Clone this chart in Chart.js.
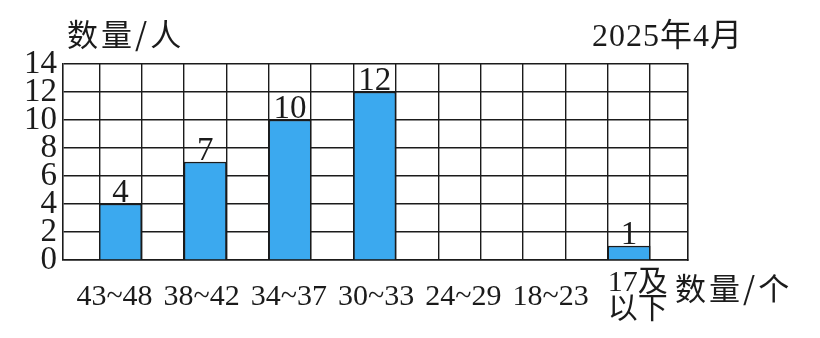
<!DOCTYPE html>
<html><head><meta charset="utf-8">
<script src="https://cdn.jsdelivr.net/npm/chart.js@4/dist/chart.umd.min.js"></script>
<style>html,body{margin:0;padding:0;background:#fff}</style>
</head><body>
<canvas id="c" width="820" height="338"></canvas>
<script>
// ---- data ----
const categories = ['43~48', '38~42', '34~37', '30~33', '24~29', '18~23', ['17及', '以下']];
const counts = [4, 7, 10, 12, 0, 0, 1];
const yTicks = [0, 2, 4, 6, 8, 10, 12, 14];
const yTitle = '数量/人';
const xTitle = '数量/个';
const dateLabel = '2025年4月';

// ---- style ----
const SERIF = "'Liberation Serif','Noto Sans CJK SC',serif";
const CJK = "'Noto Sans CJK SC','Liberation Serif',sans-serif";
const INK = '#1b1b1b';
const BAR = '#3ba9ef';

const annotations = {
  id: 'annotations',
  afterDraw(chart) {
    const {ctx, chartArea: a} = chart;
    ctx.save();
    ctx.fillStyle = INK;
    ctx.textBaseline = 'middle';
    ctx.font = `31px ${CJK}`;
    ctx.letterSpacing = '3px';
    ctx.textAlign = 'left';
    ctx.fillText(yTitle, a.left + 4, a.top - 30);
    ctx.fillText(xTitle, a.right - 13, a.bottom + 28);
    ctx.font = `32px ${SERIF}`;
    ctx.letterSpacing = '1px';
    ctx.textAlign = 'right';
    ctx.fillText(dateLabel, a.right + 55, a.top - 26);
    ctx.restore();
  }
};

const valueLabels = {
  id: 'valueLabels',
  afterDatasetsDraw(chart) {
    const ctx = chart.ctx;
    const meta = chart.getDatasetMeta(0);
    ctx.save();
    ctx.fillStyle = INK;
    ctx.font = `33px ${SERIF}`;
    ctx.textAlign = 'center';
    ctx.textBaseline = 'alphabetic';
    meta.data.forEach((bar, i) => {
      if (counts[i] > 0) ctx.fillText(String(counts[i]), bar.x, bar.y - 2);
    });
    ctx.restore();
  }
};

new Chart(document.getElementById('c'), {
  type: 'bar',
  data: {
    datasets: [{
      data: counts.map((v, i) => ({x: i, y: v})),
      backgroundColor: BAR,
      borderColor: INK,
      borderWidth: 1.5,
      borderSkipped: 'start',
      categoryPercentage: 1,
      barPercentage: 1,
      xAxisID: 'x',
      yAxisID: 'y'
    }]
  },
  options: {
    responsive: false,
    animation: false,
    devicePixelRatio: 1,
    layout: {padding: {left: 0, right: 132, top: 64, bottom: 0}},
    plugins: {legend: {display: false}, tooltip: {enabled: false}, title: {display: false}},
    scales: {
      x: {
        type: 'linear', position: 'bottom', offset: false,
        min: -0.678, max: 6.696,
        grid: {offset: false, color: INK, lineWidth: 1.4, drawTicks: false},
        border: {display: true, color: INK, width: 1.6},
        ticks: {display: false},
        afterBuildTicks(s) {
          const t = [];
          for (let k = 0; k < categories.length * 2; k++) t.push({value: -0.25 + 0.5 * k});
          s.ticks = t;
        },
        afterFit(s) { s.height = 0; }
      },
      xl: {
        type: 'linear', position: 'bottom', offset: false,
        min: -0.5906, max: 6.576,
        grid: {display: false, drawTicks: false},
        border: {display: false},
        ticks: {
          color: INK, autoSkip: false, maxRotation: 0, minRotation: 0,
          padding: 23.5, crossAlign: 'center',
          font: {family: SERIF, size: 30, lineHeight: 0.9},
          callback: (v) => categories[v]
        },
        afterBuildTicks(s) { s.ticks = categories.map((_, i) => ({value: i})); },
        afterFit(s) { s.height = 78; }
      },
      y: {
        min: 0, max: 14,
        grid: {color: INK, lineWidth: 1.4, drawTicks: false},
        border: {color: INK, width: 1.6},
        ticks: {color: INK, autoSkip: false, padding: 6, font: {family: SERIF, size: 33}},
        afterBuildTicks(s) { s.ticks = yTicks.map(v => ({value: v})); },
        afterFit(s) { s.width = 63; }
      },
      y2: {
        position: 'right', min: 0, max: 14,
        grid: {display: false, drawTicks: false},
        border: {display: true, color: INK, width: 1.6},
        ticks: {display: false},
        afterFit(s) { s.width = 0; }
      }
    }
  },
  plugins: [valueLabels, annotations]
});
</script>
</body></html>
